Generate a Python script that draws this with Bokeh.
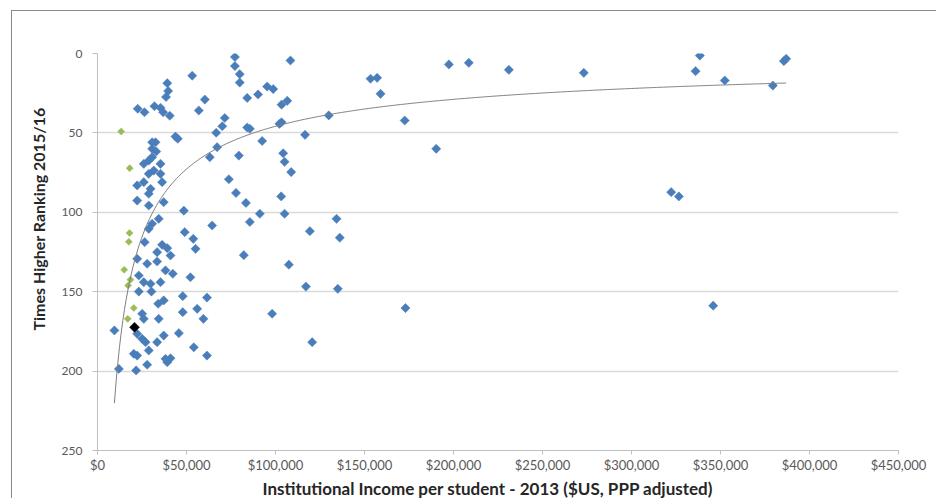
import numpy as np
from bokeh.plotting import figure
from bokeh.models import Range1d, FixedTicker, NumeralTickFormatter, Title
from bokeh.embed import file_html
from bokeh.resources import INLINE

# ---- data ----
blue_income = [
    77200, 77200, 79900, 79900, 108400, 53200, 39200, 39700, 38500, 60300,
    56900, 22600, 26400, 32000, 35400, 36900, 40600, 84100, 90200, 95300,
    98700, 103400, 106600, 71500, 70100, 66700, 84100, 85600, 103400, 102200,
    116600, 43800, 45100, 30700, 32600, 30700, 67200, 63100, 79400, 92500,
    104300, 105100, 108800,
    26000, 28800, 35400, 31600, 28800, 35400, 22300, 26000, 29800, 36300,
    28800, 22300, 28800, 37200, 30700, 33000,
    73800, 77800, 83400, 103200, 48500, 129900, 153400, 157100, 159000, 172600,
    190300, 197400, 208600, 231100, 273200, 336000, 338400, 352400, 379400, 385600,
    386900, 322300, 326600, 345900,
    34400, 30700, 28800, 26500, 49000, 53800, 55100, 36300, 39200, 41000,
    33500, 22300, 27900, 33500, 38200, 42300, 52200, 23200, 26000, 29800,
    35400, 23200, 30300, 47900, 61500, 37200, 34100, 56000, 47900, 25100,
    26000, 34400, 59500, 9500, 22300, 25100, 27000, 37200, 45700, 33500,
    28800, 54100, 61500, 20400, 22300, 38200, 41000, 39200, 27900, 12000,
    21700,
    64400, 85600, 91200, 105100, 119300, 82200, 107500, 117100, 98100, 120600,
    134300, 136100, 135000, 173000,
]
blue_rank = [
    2.2, 7.9, 13.0, 18.3, 4.4, 14.0, 18.7, 23.6, 27.4, 29.0,
    35.9, 34.8, 37.0, 33.2, 34.2, 37.0, 39.2, 28.0, 25.8, 20.8,
    22.4, 32.2, 29.8, 40.6, 45.8, 49.9, 46.6, 47.4, 43.3, 44.3,
    51.2, 52.3, 53.7, 55.9, 55.9, 60.0, 59.0, 65.3, 64.3, 55.1,
    62.8, 68.2, 74.7,
    69.5, 67.4, 69.5, 73.7, 75.8, 75.8, 83.1, 81.0, 85.2, 81.0,
    88.3, 92.6, 95.7, 93.6, 65.3, 61.7,
    79.2, 87.8, 94.1, 90.0, 99.0, 39.0, 15.9, 15.3, 25.4, 42.2,
    60.0, 6.9, 5.9, 10.3, 12.2, 11.1, 1.3, 17.0, 20.2, 4.8,
    3.3, 87.3, 90.0, 158.8,
    104.1, 107.2, 110.4, 118.8, 112.5, 116.7, 123.0, 120.5, 122.6, 127.2,
    125.1, 129.3, 132.4, 131.0, 136.6, 138.7, 140.9, 139.8, 144.0, 145.0,
    144.0, 149.9, 149.9, 152.8, 153.7, 155.5, 157.6, 160.8, 162.9, 163.9,
    167.1, 167.1, 167.1, 174.4, 176.5, 179.7, 181.8, 177.6, 176.1, 181.8,
    187.0, 185.0, 190.2, 189.1, 190.2, 192.3, 191.9, 194.4, 196.0, 198.6,
    199.6,
    108.3, 106.1, 100.9, 100.9, 111.9, 127.0, 133.0, 146.8, 163.9, 181.8,
    104.1, 116.0, 148.2, 160.3,
]
green_income = [13300, 18100, 18000, 17600, 15000, 18500, 17200, 20400, 17000]
green_rank = [49.1, 72.2, 113.0, 118.6, 136.2, 142.4, 146.1, 160.3, 167.1]
black_income = [20800]
black_rank = [172.4]

x_ticks = [0, 50000, 100000, 150000, 200000, 250000, 300000, 350000, 400000, 450000]
y_ticks = [0, 50, 100, 150, 200, 250]
grid_ticks = [0, 50, 100, 150, 200]

x_title = "Institutional Income per student - 2013 ($US, PPP adjusted)"
y_title = "Times Higher Ranking 2015/16"

# ---- power trendline fitted to all points (as the spreadsheet does) ----
all_x = np.array(blue_income + green_income + black_income, dtype=float)
all_y = np.array(blue_rank + green_rank + black_rank, dtype=float)
k, lnc = np.polyfit(np.log(all_x), np.log(all_y), 1)
trend_x = np.linspace(all_x.min(), all_x.max(), 400)
trend_y = np.exp(lnc) * trend_x ** k

FONT = "Lato"

p = figure(width=925, height=488, output_backend="svg", toolbar_location=None,
           x_range=Range1d(0, 450000), y_range=Range1d(250, 0),
           min_border_left=85, min_border_right=39, min_border_top=42,
           min_border_bottom=49, margin=(10, 0, 0, 11))
p.styles = {"border-left": "1px solid #8a8a8a", "border-top": "1px solid #8a8a8a"}
p.outline_line_color = None
p.background_fill_color = "white"
p.border_fill_color = "white"

p.xgrid.visible = False
p.ygrid.ticker = FixedTicker(ticks=grid_ticks)
p.ygrid.grid_line_color = "#D9D9D9"
p.ygrid.grid_line_width = 1.6

p.xaxis.ticker = FixedTicker(ticks=x_ticks)
p.xaxis.formatter = NumeralTickFormatter(format="$0,0")
p.yaxis.ticker = FixedTicker(ticks=y_ticks)

for ax in (p.xaxis, p.yaxis):
    ax.axis_line_color = "#BFBFBF"
    ax.major_tick_line_color = "#BFBFBF"
    ax.minor_tick_line_color = None
    ax.major_tick_in = 0
    ax.major_label_text_color = "#595959"
    ax.major_label_text_font = FONT
p.yaxis.major_label_text_font_size = "12px"
p.xaxis.major_label_text_font_size = "13px"
p.yaxis.major_tick_out = 5
p.yaxis.major_label_standoff = 10
p.xaxis.major_tick_out = 4
p.xaxis.major_label_standoff = 2

p.scatter(blue_income, blue_rank, marker="square", angle=np.pi / 4, size=6.5,
          fill_color="#4A7EBB", line_color="#4A7EBB", line_width=0.5)
p.scatter(green_income, green_rank, marker="square", angle=np.pi / 4, size=5,
          fill_color="#9BBB59", line_color="#9BBB59", line_width=0.5)
p.scatter(black_income, black_rank, marker="square", angle=np.pi / 4, size=7,
          fill_color="black", line_color="black", line_width=0.5)
p.line(trend_x, trend_y, line_color="#7F7F7F", line_width=1)

# axis titles as side-panel titles so that they can be placed like the original
p.add_layout(Title(text=y_title, align="left", offset=120, standoff=22,
                   text_font=FONT, text_font_style="bold", text_font_size="16px",
                   text_color="#262626"), "left")
p.add_layout(Title(text=x_title, align="left", offset=165, standoff=1,
                   text_font=FONT, text_font_style="bold", text_font_size="17px",
                   text_color="#262626"), "below")

open("out.html", "w").write(file_html(p, INLINE))
